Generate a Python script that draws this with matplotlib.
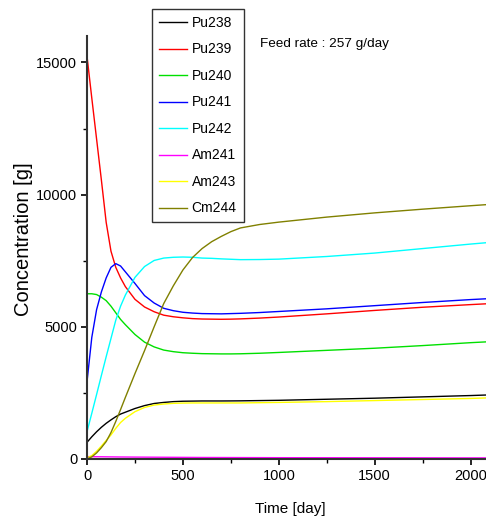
import matplotlib
matplotlib.use("Agg")
import matplotlib.pyplot as plt
from matplotlib.ticker import MultipleLocator

plt.rcParams["font.family"] = ["Liberation Sans", "DejaVu Sans"]

# time grid [day]
t = [0, 25, 50, 75, 100, 125, 150, 175, 200, 250, 300, 350, 400, 450, 500,
     550, 600, 650, 700, 750, 800, 900, 1000, 1250, 1500, 1750, 2000, 2080]

pu238 = [630, 840, 1030, 1200, 1350, 1480, 1600, 1700, 1770, 1910, 2020, 2100,
         2140, 2170, 2185, 2190, 2195, 2195, 2195, 2197, 2200, 2210, 2220,
         2260, 2300, 2350, 2400, 2420]
pu239 = [15240, 13650, 12100, 10550, 8950, 7860, 7250, 6850, 6520, 6040, 5750, 5570,
         5440, 5380, 5340, 5310, 5295, 5290, 5285, 5290, 5300, 5330, 5370,
         5490, 5620, 5740, 5840, 5870]
pu240 = [6250, 6250, 6220, 6120, 5990, 5780, 5530, 5280, 5080, 4710, 4420, 4240,
         4120, 4060, 4020, 4000, 3985, 3980, 3975, 3975, 3980, 4000, 4030,
         4110, 4190, 4290, 4400, 4430]
pu241 = [2920, 4600, 5650, 6320, 6850, 7250, 7390, 7300, 7080, 6640, 6180, 5900,
         5700, 5610, 5550, 5520, 5500, 5495, 5490, 5500, 5510, 5540, 5580,
         5680, 5800, 5920, 6030, 6060]
pu242 = [1030, 1730, 2440, 3160, 3870, 4560, 5250, 5780, 6200, 6870, 7280, 7510,
         7600, 7630, 7640, 7630, 7600, 7590, 7570, 7555, 7540, 7545, 7560,
         7660, 7790, 7960, 8130, 8180]
am241 = [90, 88, 86, 84, 82, 80, 78, 76, 75, 72, 70, 68,
         66, 64, 62, 60, 58, 57, 56, 55, 54, 52, 50, 48, 46, 44, 42, 42]
am243 = [40, 130, 290, 490, 700, 910, 1160, 1380, 1540, 1790, 1950, 2040,
         2080, 2105, 2115, 2120, 2120, 2120, 2120, 2120, 2120, 2130, 2140,
         2170, 2210, 2250, 2290, 2310]
cm244 = [0, 80, 230, 430, 660, 1000, 1420, 1870, 2330, 3230, 4100, 5000,
         5880, 6550, 7150, 7620, 7960, 8220, 8420, 8600, 8740, 8870, 8960,
         9150, 9310, 9450, 9580, 9620]

series = [("Pu238", pu238, "black"), ("Pu239", pu239, "red"),
          ("Pu240", pu240, "#00e000"), ("Pu241", pu241, "blue"),
          ("Pu242", pu242, "cyan"), ("Am241", am241, "magenta"),
          ("Am243", am243, "yellow"), ("Cm244", cm244, "#808000")]

fig = plt.figure(figsize=(4.86, 5.2), dpi=100)
ax = fig.add_axes([87 / 486, 61 / 520, 1 - 87 / 486, 423 / 520])

for name, vals, col in series:
    ax.plot(t, vals, color=col, lw=1.0, label=name)

ax.set_xlim(0, 2080)
ax.set_ylim(0, 16000)
ax.xaxis.set_major_locator(MultipleLocator(500))
ax.xaxis.set_minor_locator(MultipleLocator(250))
ax.yaxis.set_major_locator(MultipleLocator(5000))
ax.yaxis.set_minor_locator(MultipleLocator(2500))
ax.tick_params(which="major", direction="out", length=4, width=1.2, labelsize=10.5, pad=3)
ax.tick_params(which="minor", direction="out", length=3, width=1.0)
for s in ["top", "right"]:
    ax.spines[s].set_visible(False)
for s in ["left", "bottom"]:
    ax.spines[s].set_linewidth(1.5)
    ax.spines[s].set_color("#333333")

ax.set_xlabel("Time [day]", fontsize=11)
ax.xaxis.set_label_coords(0.509, -0.102)
ax.set_ylabel("Concentration [g]", fontsize=14.5)
ax.yaxis.set_label_coords(-0.135, 0.52)

leg = fig.legend(loc="upper left", bbox_to_anchor=(152 / 486, 1 - 9 / 520), fontsize=10,
                 frameon=True, fancybox=False, handlelength=2.0, handletextpad=0.35,
                 labelspacing=0.9, borderpad=0.5, borderaxespad=0)
leg.get_frame().set_edgecolor("black")
leg.get_frame().set_linewidth(1.0)

fig.text(260 / 486, 1 - 44 / 520, "Feed rate : 257 g/day", fontsize=9.7, va="center", ha="left")

fig.savefig("out.png", dpi=100)
